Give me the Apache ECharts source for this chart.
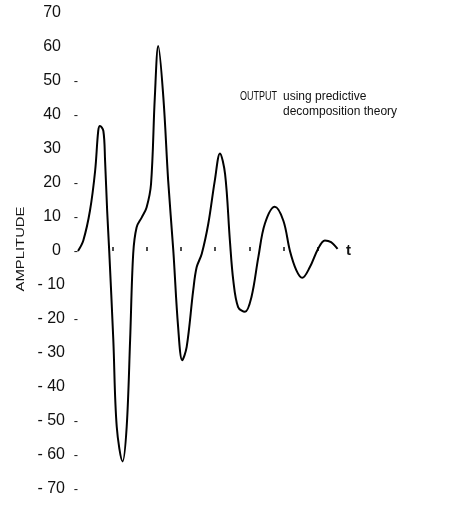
<!DOCTYPE html>
<html>
<head>
<meta charset="utf-8">
<script src="https://cdn.jsdelivr.net/npm/echarts@6/dist/echarts.min.js"></script>
<style>
html,body{margin:0;padding:0;background:#fff;}
#chart{width:462px;height:507px;}
</style>
</head>
<body>
<div id="chart"></div>
<script>
// time values (x, in tick units) and amplitude
const timeValues = [0,0.155,0.35,0.50,0.59,0.64,0.74,0.79,0.85,0.91,1.03,1.13,1.30,1.42,1.52,1.61,1.71,1.86,2.00,2.13,2.24,2.34,2.49,2.63,2.78,2.92,3.04,3.17,3.36,3.46,3.61,3.80,3.99,4.14,4.29,4.43,4.53,4.67,4.87,5.06,5.26,5.45,5.74,5.99,6.18,6.37,6.54,6.76,7.00,7.20,7.38,7.57];
const amplitude = [0,3.1,11.9,23.6,35.3,36.8,35.3,26.5,11.9,0.1,-26.2,-51.7,-61.9,-51.7,-26.2,-0.8,7.0,9.9,12.8,19.7,45.1,60.3,45.1,20.7,0.1,-22.3,-32.1,-28.2,-11.6,-4.8,-0.8,8.0,20.7,28.7,22.6,3.1,-8.7,-16.5,-17.9,-13.5,-1.8,8.0,13.0,8.9,0.1,-5.7,-7.9,-4.8,0.6,3.1,2.6,0.6];
// y labels that carry a small dash
const yDashValues = [50,40,20,10,0,-20,-50,-60,-70];
// small marks along the zero line
const timeTicks = [1,2,3,4,5,6,7];
const yAxisTitle = 'AMPLITUDE';
const xAxisTitle = 't';
const noteLine1a = 'OUTPUT';
const noteLine1b = 'using predictive';
const noteLine2 = 'decomposition theory';

const seriesData = timeValues.map((t, i) => [t, amplitude[i]]);
const FONT = 'Liberation Sans, Arial, sans-serif';

const chart = echarts.init(document.getElementById('chart'), null, {renderer: 'canvas'});
chart.setOption({
  animation: false,
  backgroundColor: '#fff',
  grid: {left: 78, right: 120, top: 13, bottom: 18},
  xAxis: {
    type: 'value', min: 0, max: 7.7,
    axisLine: {show: false, onZero: true},
    axisTick: {show: true, inside: true, length: 4, customValues: timeTicks, lineStyle: {color: '#111', width: 1.5}},
    axisLabel: {show: false},
    splitLine: {show: false},
    name: xAxisTitle, nameLocation: 'end', nameGap: 4,
    nameTextStyle: {fontSize: 15, fontWeight: 'bold', color: '#111', fontFamily: FONT}
  },
  yAxis: {
    type: 'value', min: -70, max: 70, interval: 10,
    axisLine: {show: false},
    axisTick: {show: false},
    splitLine: {show: false},
    axisLabel: {
      margin: 0,
      formatter: function (v) {
        const neg = v < 0;
        const s = neg ? '- ' + (-v) : String(v);
        const tk = neg ? 'tn' : 'tp';
        return '{n|' + s + '}{' + tk + '|' + (yDashValues.indexOf(v) >= 0 ? '-' : ' ') + '}';
      },
      rich: {
        n: {fontSize: 16, color: '#111', fontFamily: FONT},
        tp: {width: 17, align: 'right', fontSize: 13, color: '#111', fontFamily: FONT},
        tn: {width: 13, align: 'right', fontSize: 13, color: '#111', fontFamily: FONT}
      }
    }
  },
  series: [{
    type: 'line',
    data: seriesData,
    smooth: 0.35,
    showSymbol: false,
    lineStyle: {color: '#000', width: 2}
  }],
  graphic: [
    {type: 'text', x: 21, y: 249, rotation: Math.PI / 2, scaleX: 1.35,
     style: {text: yAxisTitle, fontSize: 11, fontFamily: FONT, fill: '#111', align: 'center', verticalAlign: 'middle'}},
    {type: 'text', x: 240, y: 97, scaleX: 0.72,
     style: {text: noteLine1a, fontSize: 12.5, fontFamily: FONT, fill: '#111', align: 'left', verticalAlign: 'middle'}},
    {type: 'text', x: 283, y: 97,
     style: {text: noteLine1b, fontSize: 12, fontFamily: FONT, fill: '#111', align: 'left', verticalAlign: 'middle'}},
    {type: 'text', x: 283, y: 112,
     style: {text: noteLine2, fontSize: 12, fontFamily: FONT, fill: '#111', align: 'left', verticalAlign: 'middle'}}
  ]
});
</script>
</body>
</html>
